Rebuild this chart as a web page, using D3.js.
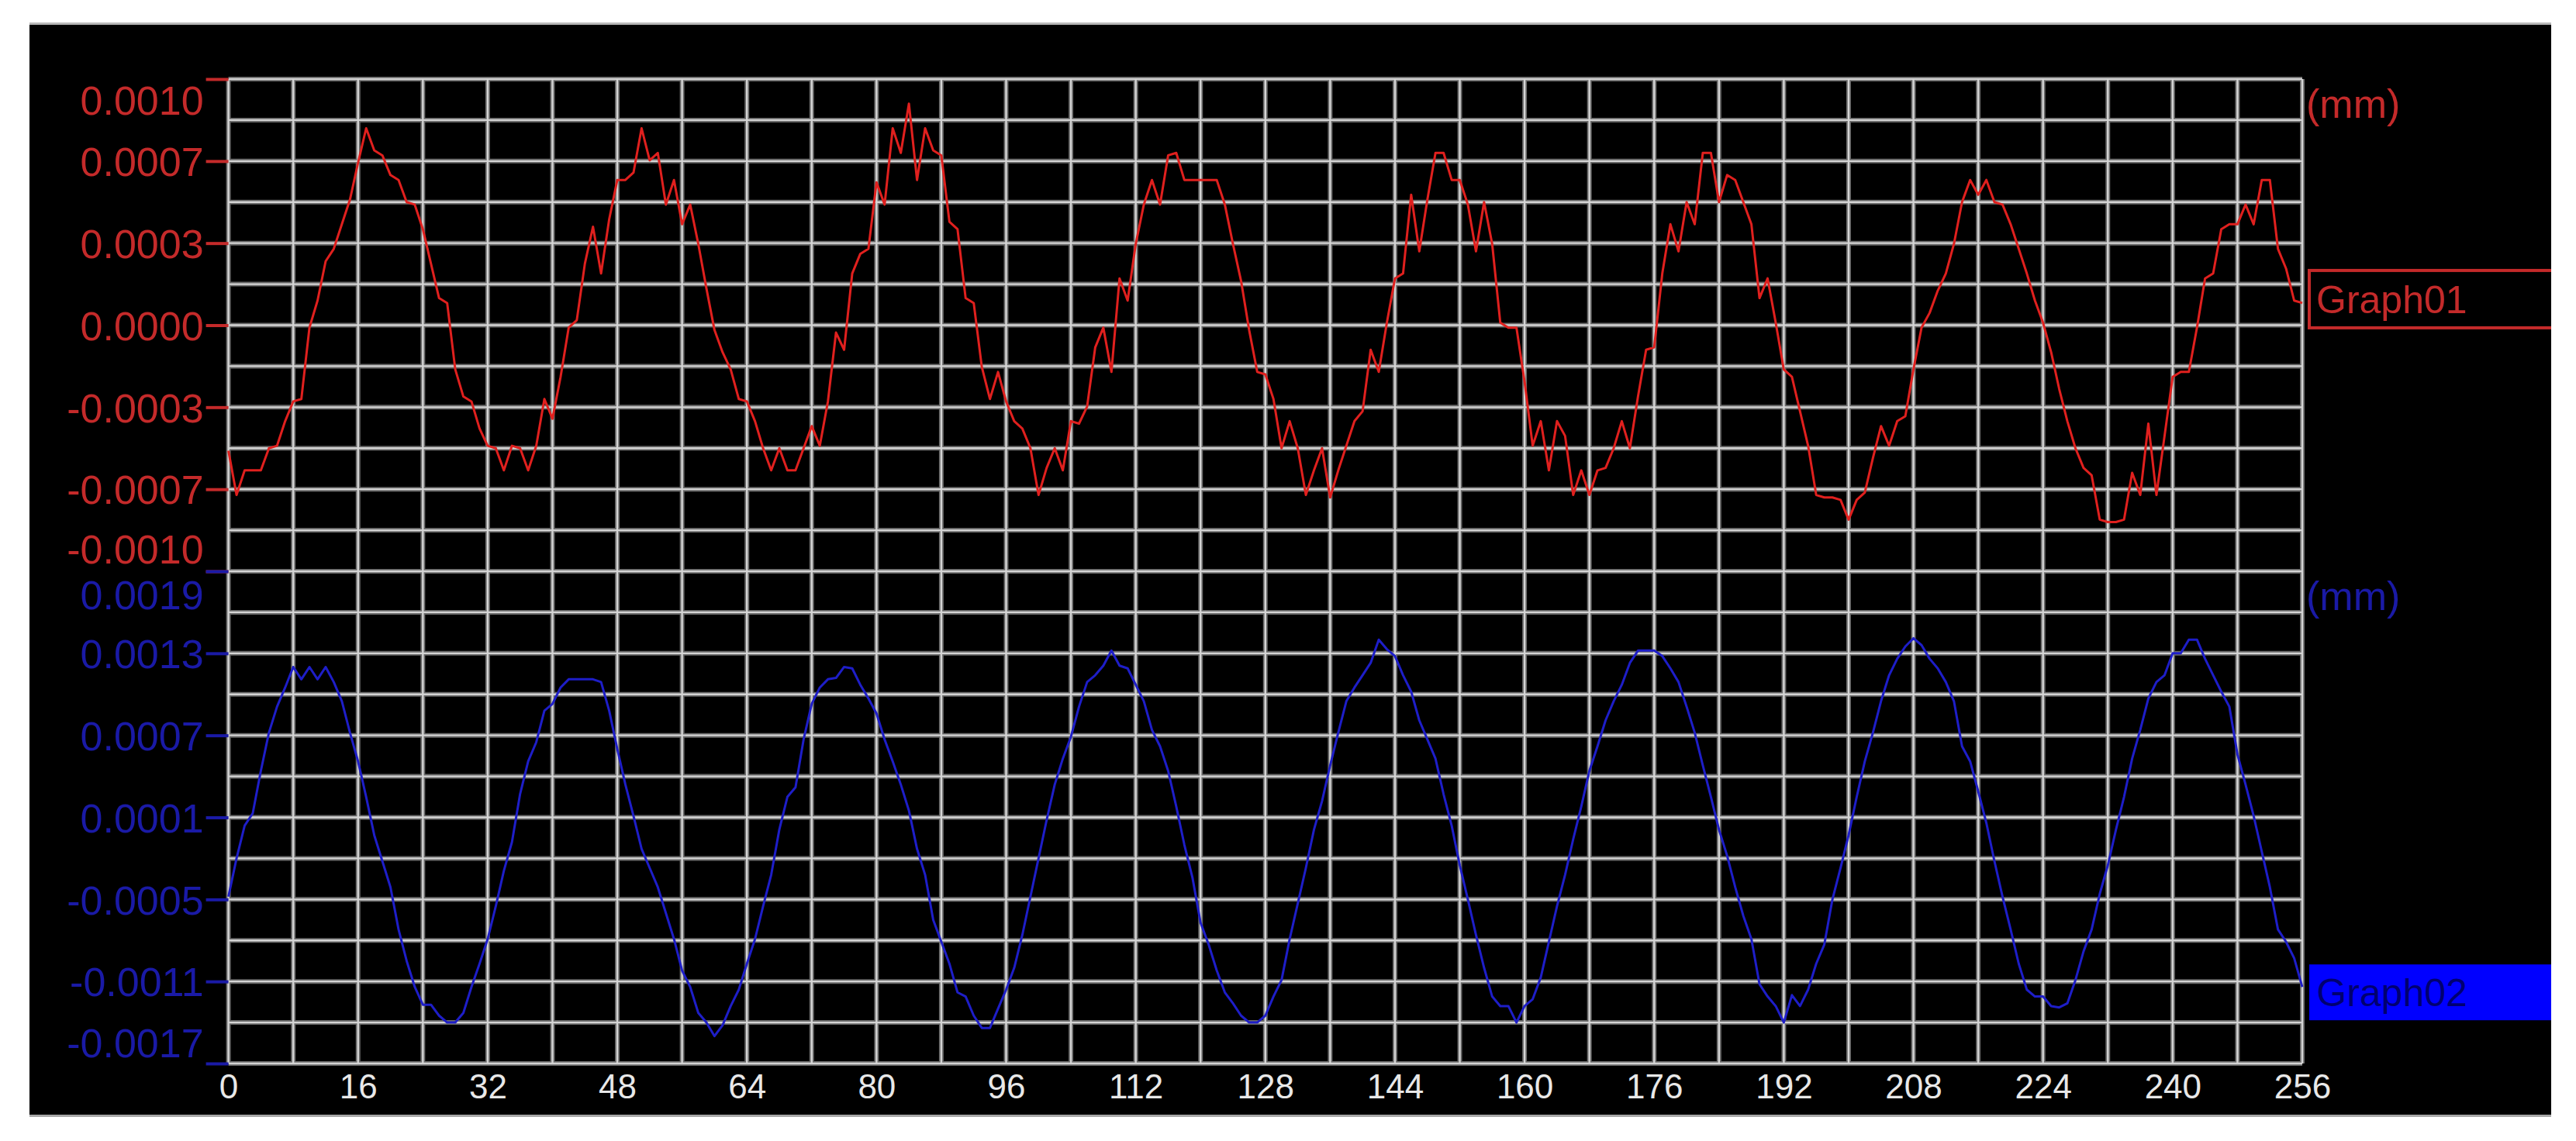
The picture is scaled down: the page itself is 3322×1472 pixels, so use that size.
<!DOCTYPE html>
<html>
<head>
<meta charset="utf-8">
<script src="https://cdn.jsdelivr.net/npm/d3@7"></script>
<style>
  html, body { margin: 0; padding: 0; background: #ffffff; }
  svg { display: block; }
  text { font-family: "Liberation Sans", "Noto Sans", sans-serif; }
</style>
</head>
<body>
<svg id="chart" width="3322" height="1472"></svg>
<script>
// ---------------- data ----------------
const sampleIndex = d3.range(0, 257);          // x positions 0..256

const graph01 = [ // (mm)
 -0.00051,-0.00069,-0.00059,-0.00059,-0.00059,-0.00050,-0.00049,-0.00039,-0.00031,-0.00030,
 -0.00001,0.00010,0.00026,0.00031,0.00041,0.00051,0.00066,0.00080,0.00071,0.00069,
 0.00061,0.00059,0.00050,0.00049,0.00039,0.00025,0.00011,0.00009,-0.00018,-0.00029,
 -0.00031,-0.00042,-0.00049,-0.00050,-0.00059,-0.00049,-0.00050,-0.00059,-0.00049,-0.00030,
 -0.00038,-0.00021,-0.00001,0.00002,0.00025,0.00040,0.00021,0.00043,0.00059,0.00059,
 0.00062,0.00080,0.00067,0.00070,0.00049,0.00059,0.00041,0.00049,0.00033,0.00015,
 -0.00002,-0.00011,-0.00018,-0.00030,-0.00031,-0.00039,-0.00050,-0.00059,-0.00050,-0.00059,
 -0.00059,-0.00050,-0.00041,-0.00049,-0.00031,-0.00003,-0.00010,0.00021,0.00029,0.00031,
 0.00058,0.00049,0.00080,0.00070,0.00090,0.00059,0.00080,0.00071,0.00069,0.00042,
 0.00039,0.00011,0.00009,-0.00017,-0.00030,-0.00019,-0.00031,-0.00039,-0.00042,-0.00050,
 -0.00069,-0.00058,-0.00050,-0.00059,-0.00039,-0.00040,-0.00033,-0.00009,-0.00001,-0.00019,
 0.00019,0.00010,0.00033,0.00049,0.00059,0.00049,0.00069,0.00070,0.00059,0.00059,
 0.00059,0.00059,0.00059,0.00049,0.00033,0.00018,-0.00002,-0.00019,-0.00020,-0.00030,
 -0.00050,-0.00039,-0.00050,-0.00069,-0.00059,-0.00050,-0.00070,-0.00059,-0.00049,-0.00039,
 -0.00035,-0.00010,-0.00019,0.00001,0.00019,0.00021,0.00053,0.00030,0.00051,0.00070,
 0.00070,0.00059,0.00059,0.00049,0.00030,0.00050,0.00033,0.00001,-0.00001,-0.00001,
 -0.00023,-0.00049,-0.00039,-0.00059,-0.00039,-0.00045,-0.00069,-0.00059,-0.00069,-0.00059,
 -0.00058,-0.00050,-0.00039,-0.00050,-0.00029,-0.00010,-0.00009,0.00021,0.00041,0.00030,
 0.00050,0.00041,0.00070,0.00070,0.00050,0.00061,0.00059,0.00050,0.00041,0.00011,
 0.00019,0.00001,-0.00018,-0.00021,-0.00035,-0.00049,-0.00069,-0.00070,-0.00070,-0.00071,
 -0.00079,-0.00071,-0.00068,-0.00054,-0.00041,-0.00049,-0.00039,-0.00037,-0.00018,-0.00001,
 0.00005,0.00014,0.00021,0.00033,0.00050,0.00059,0.00053,0.00059,0.00050,0.00049,
 0.00041,0.00031,0.00021,0.00010,0.00001,-0.00011,-0.00026,-0.00039,-0.00050,-0.00058,
 -0.00061,-0.00079,-0.00080,-0.00080,-0.00079,-0.00060,-0.00069,-0.00040,-0.00069,-0.00045,
 -0.00021,-0.00019,-0.00019,-0.00001,0.00019,0.00021,0.00039,0.00041,0.00041,0.00049,
 0.00041,0.00059,0.00059,0.00031,0.00023,0.00010,0.00009
];

const graph02 = [ // (mm)
 -0.00048,-0.00020,0.00004,0.00013,0.00044,0.00072,0.00091,0.00105,0.00120,0.00111,
 0.00120,0.00111,0.00120,0.00109,0.00095,0.00072,0.00051,0.00025,-0.00003,-0.00022,
 -0.00041,-0.00072,-0.00095,-0.00114,-0.00127,-0.00127,-0.00135,-0.00140,-0.00140,-0.00133,
 -0.00114,-0.00097,-0.00079,-0.00055,-0.00029,-0.00008,0.00027,0.00051,0.00065,0.00088,
 0.00093,0.00105,0.00111,0.00111,0.00111,0.00111,0.00109,0.00088,0.00060,0.00034,
 0.00011,-0.00013,-0.00027,-0.00041,-0.00060,-0.00079,-0.00102,-0.00114,-0.00133,-0.00140,
 -0.00150,-0.00142,-0.00128,-0.00116,-0.00097,-0.00079,-0.00055,-0.00032,0.00001,0.00025,
 0.00032,0.00067,0.00093,0.00105,0.00111,0.00112,0.00120,0.00119,0.00107,0.00097,
 0.00086,0.00067,0.00051,0.00034,0.00015,-0.00013,-0.00032,-0.00065,-0.00081,-0.00097,
 -0.00118,-0.00121,-0.00135,-0.00144,-0.00144,-0.00130,-0.00116,-0.00100,-0.00076,-0.00048,
 -0.00020,0.00008,0.00034,0.00053,0.00069,0.00091,0.00109,0.00114,0.00121,0.00132,
 0.00121,0.00119,0.00107,0.00095,0.00074,0.00062,0.00044,0.00018,-0.00010,-0.00034,
 -0.00067,-0.00083,-0.00102,-0.00118,-0.00126,-0.00135,-0.00140,-0.00140,-0.00135,-0.00121,
 -0.00109,-0.00079,-0.00053,-0.00027,0.00001,0.00022,0.00048,0.00072,0.00095,0.00105,
 0.00114,0.00123,0.00140,0.00133,0.00128,0.00114,0.00102,0.00081,0.00067,0.00053,
 0.00027,0.00004,-0.00025,-0.00050,-0.00076,-0.00100,-0.00121,-0.00128,-0.00128,-0.00140,
 -0.00128,-0.00123,-0.00107,-0.00081,-0.00055,-0.00032,-0.00006,0.00018,0.00044,0.00062,
 0.00081,0.00095,0.00107,0.00123,0.00132,0.00132,0.00132,0.00128,0.00119,0.00109,
 0.00091,0.00072,0.00048,0.00025,0.00001,-0.00018,-0.00041,-0.00062,-0.00079,-0.00112,
 -0.00121,-0.00128,-0.00140,-0.00120,-0.00128,-0.00116,-0.00097,-0.00083,-0.00050,-0.00027,
 -0.00003,0.00025,0.00051,0.00072,0.00095,0.00114,0.00126,0.00135,0.00141,0.00136,
 0.00126,0.00119,0.00109,0.00095,0.00062,0.00051,0.00029,0.00006,-0.00022,-0.00048,
 -0.00072,-0.00097,-0.00116,-0.00121,-0.00121,-0.00128,-0.00129,-0.00126,-0.00109,-0.00088,
 -0.00072,-0.00046,-0.00025,0.00001,0.00025,0.00053,0.00074,0.00097,0.00109,0.00114,
 0.00130,0.00130,0.00140,0.00140,0.00126,0.00114,0.00102,0.00091,0.00056,0.00034,
 0.00011,-0.00015,-0.00041,-0.00072,-0.00081,-0.00093,-0.00114
];

const xTickLabels = [0, 16, 32, 48, 64, 80, 96, 112, 128, 144, 160, 176, 192, 208, 224, 240, 256];
const graph01Ticks = [0.0010, 0.00066667, 0.00033333, 0, -0.00033333, -0.00066667, -0.0010];
const graph02Ticks = [0.0019, 0.0013, 0.0007, 0.0001, -0.0005, -0.0011, -0.0017];
const seriesNames = ["Graph01", "Graph02"];
const unitLabel = "(mm)";

// ---------------- layout ----------------
const W = 3322, H = 1472;
const frame = { x0: 38, y0: 32, x1: 3290, y1: 1438 };
const plot = { left: 294.6, right: 2969, top: 102, bottom: 1372 };
const RED_TEXT = "#c42a2a", RED_LINE = "#e0201e";
const BLUE_TEXT = "#1a1aa6", BLUE_LINE = "#1e1ec8";

const svg = d3.select("#chart");

svg.append("rect").attr("x", 0).attr("y", 0).attr("width", W).attr("height", H).attr("fill", "#ffffff");
svg.append("rect").attr("x", frame.x0).attr("y", frame.y0 - 3).attr("width", frame.x1 - frame.x0).attr("height", 3).attr("fill", "#b8b8b8");
svg.append("rect").attr("x", frame.x0).attr("y", frame.y0).attr("width", frame.x1 - frame.x0).attr("height", frame.y1 - frame.y0).attr("fill", "#000000");
svg.append("rect").attr("x", frame.x0).attr("y", frame.y1).attr("width", frame.x1 - frame.x0).attr("height", 3).attr("fill", "#a8a8a8");

// scales
const x = d3.scaleLinear().domain([0, 256]).range([plot.left, plot.right]);
const grid = d3.scaleLinear().domain([0, 24]).range([plot.top, plot.bottom]);
const y1 = d3.scaleLinear().domain([-0.0010, 0.0010]).range([grid(12), grid(0)]);
const y2 = d3.scaleLinear().domain([-0.0017, 0.0019]).range([grid(24), grid(12)]);

const fmt = d3.formatLocale({ decimal: ".", thousands: ",", grouping: [3], currency: ["", ""], minus: "-" }).format(".4f");

// grid
const gGrid = svg.append("g");
const hLines = d3.range(0, 25);
const vLines = d3.range(0, 257, 8);
[["#6a6a6a", 6], ["#d4d4d4", 2.4]].forEach(([c, w]) => {
  gGrid.selectAll(null).data(hLines).enter().append("line")
    .attr("x1", plot.left).attr("x2", plot.right)
    .attr("y1", d => grid(d)).attr("y2", d => grid(d))
    .attr("stroke", c).attr("stroke-width", w);
  gGrid.selectAll(null).data(vLines).enter().append("line")
    .attr("x1", d => x(d)).attr("x2", d => x(d))
    .attr("y1", plot.top).attr("y2", plot.bottom)
    .attr("stroke", c).attr("stroke-width", w);
});

// y axes (end labels pulled inside the axis span, as in the original)
function styleYAxis(g, color, n, topShift, bottomShift) {
  g.select(".domain").remove();
  g.selectAll(".tick line").attr("stroke", color).attr("stroke-width", 4);
  g.selectAll(".tick text")
    .attr("fill", color).attr("font-size", 52).attr("dy", "0.36em")
    .attr("transform", (d, i) => i === 0 ? `translate(0,${topShift})` : (i === n - 1 ? `translate(0,${bottomShift})` : null));
}
const ax1 = svg.append("g").attr("transform", `translate(${plot.left},0)`)
  .call(d3.axisLeft(y1).tickValues(graph01Ticks).tickFormat(fmt).tickSize(29).tickPadding(3));
styleYAxis(ax1, RED_TEXT, graph01Ticks.length, 27, -29);
const ax2 = svg.append("g").attr("transform", `translate(${plot.left},0)`)
  .call(d3.axisLeft(y2).tickValues(graph02Ticks).tickFormat(fmt).tickSize(29).tickPadding(3));
styleYAxis(ax2, BLUE_TEXT, graph02Ticks.length, 30, -27);

// x axis
const axX = svg.append("g").attr("transform", `translate(0,${plot.bottom})`)
  .call(d3.axisBottom(x).tickValues(xTickLabels).tickFormat(d3.format("d")).tickSize(0).tickPadding(14));
axX.select(".domain").remove();
axX.selectAll(".tick text").attr("fill", "#e8e8e8").attr("font-size", 44);

// lines
const line1 = d3.line().x((d, i) => x(sampleIndex[i])).y(d => y1(d));
const line2 = d3.line().x((d, i) => x(sampleIndex[i])).y(d => y2(d));
svg.append("path").datum(graph01).attr("d", line1).attr("fill", "none")
  .attr("stroke", RED_LINE).attr("stroke-width", 3).attr("stroke-linejoin", "round");
svg.append("path").datum(graph02).attr("d", line2).attr("fill", "none")
  .attr("stroke", BLUE_LINE).attr("stroke-width", 3).attr("stroke-linejoin", "round");

// unit labels
svg.append("text").attr("x", plot.right + 5).attr("y", y1.range()[1] + 31).attr("dy", "0.36em")
  .attr("fill", RED_TEXT).attr("font-size", 52).text(unitLabel);
svg.append("text").attr("x", plot.right + 5).attr("y", y2.range()[1] + 31).attr("dy", "0.36em")
  .attr("fill", BLUE_TEXT).attr("font-size", 52).text(unitLabel);

// legend boxes anchored at last values
const boxX = plot.right + 9, boxW = frame.x1 - boxX + 4;
const c1 = y1(graph01[graph01.length - 1]) - 5;
svg.append("rect").attr("x", boxX).attr("y", c1 - 37).attr("width", boxW).attr("height", 74)
  .attr("fill", "#000").attr("stroke", RED_TEXT).attr("stroke-width", 4);
svg.append("text").attr("x", boxX + 9).attr("y", c1).attr("dy", "0.36em")
  .attr("fill", RED_TEXT).attr("font-size", 50).text(seriesNames[0]);
const c2 = y2(graph02[graph02.length - 1]) + 7;
svg.append("rect").attr("x", boxX).attr("y", c2 - 36).attr("width", boxW).attr("height", 72)
  .attr("fill", "#0000ff");
svg.append("text").attr("x", boxX + 9).attr("y", c2).attr("dy", "0.36em")
  .attr("fill", "#000070").attr("font-size", 50).text(seriesNames[1]);

// clip anything past the frame on the right
svg.append("rect").attr("x", frame.x1).attr("y", 0).attr("width", W - frame.x1).attr("height", H).attr("fill", "#ffffff");
</script>
</body>
</html>
